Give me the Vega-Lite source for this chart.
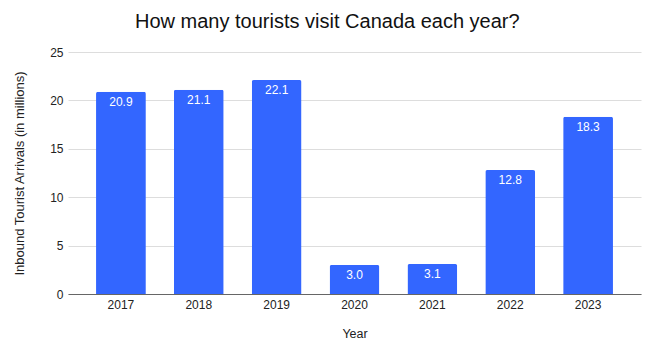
{
  "$schema": "https://vega.github.io/schema/vega-lite/v6.json",
  "width": 573,
  "height": 242,
  "autosize": {"type": "none"},
  "padding": {"left": 68, "top": 52, "right": 9, "bottom": 60},
  "background": "white",
  "title": {
    "text": "How many tourists visit Canada each year?",
    "anchor": "middle",
    "frame": "bounds",
    "font": "Liberation Sans",
    "fontSize": 20,
    "fontWeight": "normal",
    "color": "#111111",
    "offset": 14
  },
  "config": {
    "view": {"stroke": null},
    "font": "Liberation Sans"
  },
  "data": {
    "values": [
      {"Year": "2017", "Arrivals": 20.9},
      {"Year": "2018", "Arrivals": 21.1},
      {"Year": "2019", "Arrivals": 22.1},
      {"Year": "2020", "Arrivals": 3.0},
      {"Year": "2021", "Arrivals": 3.1},
      {"Year": "2022", "Arrivals": 12.8},
      {"Year": "2023", "Arrivals": 18.3}
    ]
  },
  "encoding": {
    "x": {
      "field": "Year",
      "type": "ordinal",
      "scale": {"paddingInner": 0.36, "paddingOuter": 0.36},
      "axis": {
        "title": "Year",
        "labelAngle": 0,
        "labelFont": "Liberation Sans",
        "labelFontSize": 12,
        "labelColor": "#222222",
        "labelPadding": 5,
        "ticks": false,
        "domainColor": "#666666",
        "domainWidth": 1,
        "titleFont": "Liberation Sans",
        "titleFontSize": 12.5,
        "titleFontWeight": "normal",
        "titleColor": "#222222",
        "titlePadding": 17
      }
    },
    "y": {
      "field": "Arrivals",
      "type": "quantitative",
      "scale": {"domain": [0, 25]},
      "axis": {
        "title": "Inbound Tourist Arrivals (in millions)",
        "values": [0, 5, 10, 15, 20, 25],
        "domain": false,
        "ticks": false,
        "gridColor": "#dddddd",
        "labelFont": "Liberation Sans",
        "labelFontSize": 12,
        "labelColor": "#222222",
        "labelPadding": 5,
        "titleFont": "Liberation Sans",
        "titleFontSize": 13,
        "titleFontWeight": "normal",
        "titleColor": "#222222",
        "titlePadding": 23
      }
    }
  },
  "layer": [
    {
      "mark": {"type": "bar", "color": "#3366ff", "cornerRadiusTopLeft": 2, "cornerRadiusTopRight": 2}
    },
    {
      "mark": {"type": "text", "color": "white", "fontSize": 12, "baseline": "middle", "dy": 10, "font": "Liberation Sans"},
      "encoding": {
        "text": {"field": "Arrivals", "type": "quantitative", "format": ".1f"}
      }
    }
  ]
}
